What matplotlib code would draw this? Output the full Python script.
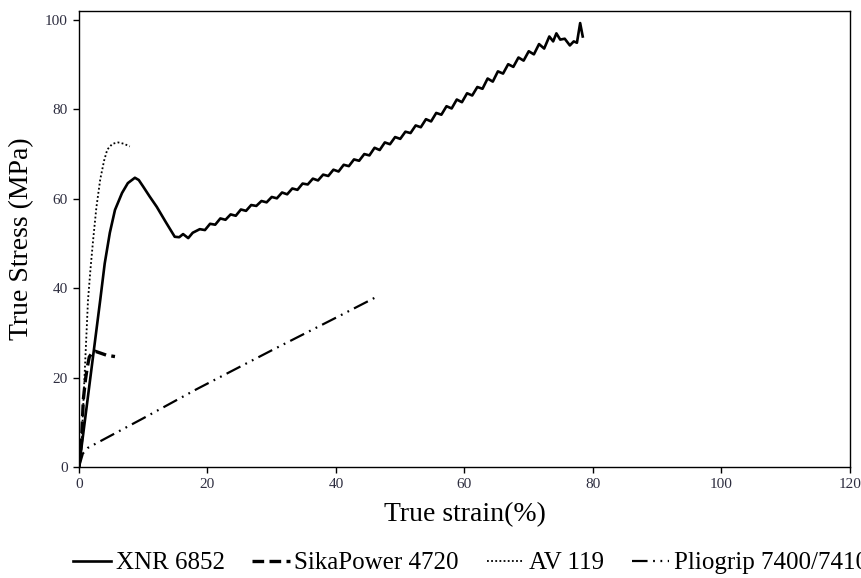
import matplotlib
matplotlib.use("Agg")
import matplotlib.pyplot as plt

plt.rcParams['font.family'] = ['Liberation Serif', 'DejaVu Serif']

# XNR 6852 (solid)
xnr_x = [0, 3.3, 4.0, 4.8, 5.6, 6.7, 7.6, 8.7, 9.3, 10.0, 11.0, 12.1, 13.5, 14.9, 15.6, 16.2, 17.0, 17.7,
         18.8, 19.6, 20.4, 21.2, 22.0, 22.8, 23.6, 24.4, 25.2, 26.0, 26.8, 27.6, 28.4, 29.2, 30.0,
         30.8, 31.6, 32.4, 33.2, 34.0, 34.8, 35.6, 36.4, 37.2, 38.0, 38.8, 39.6, 40.4, 41.2, 42.0,
         42.8, 43.6, 44.4, 45.2, 46.0, 46.8, 47.6, 48.4, 49.2, 50.0, 50.8, 51.6, 52.4, 53.2, 54.0,
         54.8, 55.6, 56.4, 57.2, 58.0, 58.8, 59.6, 60.4, 61.2, 62.0, 62.8, 63.6, 64.4, 65.2, 66.0,
         66.8, 67.6, 68.4, 69.2, 70.0, 70.8, 71.6, 72.4, 73.2, 73.8, 74.3, 74.9, 75.6, 76.4, 77.0,
         77.5, 78.0, 78.4]
xnr_y = [0, 37.3, 45.5, 52.4, 57.5, 61.3, 63.5, 64.7, 64.2, 62.7, 60.5, 58.2, 54.8, 51.5, 51.4, 52.1, 51.2, 52.4,
         53.2, 53.0, 54.4, 54.2, 55.6, 55.3, 56.5, 56.2, 57.6, 57.3, 58.6, 58.4, 59.5, 59.2, 60.4,
         60.1, 61.4, 61.0, 62.3, 62.0, 63.4, 63.2, 64.5, 64.1, 65.4, 65.1, 66.5, 66.1, 67.6, 67.3,
         68.8, 68.5, 70.0, 69.7, 71.4, 70.9, 72.6, 72.2, 73.8, 73.4, 75.0, 74.7, 76.4, 76.0, 77.8,
         77.3, 79.2, 78.8, 80.7, 80.2, 82.2, 81.6, 83.6, 83.1, 85.0, 84.6, 86.9, 86.2, 88.5, 88.0,
         90.1, 89.5, 91.6, 90.9, 93.0, 92.3, 94.6, 93.6, 96.3, 95.2, 97.0, 95.6, 95.8, 94.3, 95.2,
         94.9, 99.3, 96.3]

# SikaPower 4720 (dashed)
sika_x = [0, 0.4, 0.67, 1.0, 1.3, 1.6, 2.0, 2.5, 3.3, 4.3, 5.6]
sika_y = [0, 6.0, 15.0, 19.5, 22.4, 24.6, 25.5, 25.9, 25.5, 25.0, 24.7]

# AV 119 (dotted)
av_x = [0, 0.4, 0.9, 1.4, 1.8, 2.2, 2.7, 3.3, 3.9, 4.4, 5.2, 6.1, 7.0, 7.9]
av_y = [0, 5.4, 21.5, 37.3, 44.5, 50.8, 58.0, 64.3, 68.5, 71.0, 72.3, 72.6, 72.3, 71.7]

# Pliogrip 7400/7410 (dash-dot-dot)
plio_x = [0, 0.6, 1.4, 10.0, 18.3, 30.0, 40.0, 46.5]
plio_y = [0, 3.0, 4.3, 10.9, 17.4, 26.1, 33.4, 38.2]

labels = ['XNR 6852', 'SikaPower 4720', 'AV 119', 'Pliogrip 7400/7410']

fig = plt.figure(figsize=(8.62, 5.78), dpi=100)
ax = fig.add_axes([79 / 862, 1 - 467 / 578, (850 - 79) / 862, (467 - 11) / 578])

ax.plot(xnr_x, xnr_y, color='black', lw=1.9, solid_joinstyle='round', label=labels[0])
ax.plot(sika_x, sika_y, color='black', lw=2.4, linestyle=(0, (3.5, 1.6)), label=labels[1])
ax.plot(av_x, av_y, color='black', lw=1.3, linestyle=(0, (1, 1.3)), label=labels[2])
ax.plot(plio_x, plio_y, color='black', lw=1.6, linestyle=(0, (7, 2.5, 0.8, 2.5, 0.8, 2.5)), label=labels[3])

ax.set_xlim(0, 120)
ax.set_ylim(0, 102)
ax.set_xticks(range(0, 121, 20))
ax.set_yticks(range(0, 101, 20))
ax.tick_params(direction='out', length=4.5, width=1, labelsize=11,
               labelcolor='#2e2e40', top=False, right=False)
for s in ax.spines.values():
    s.set_linewidth(1.0)

ax.set_xlabel('True strain(%)', fontsize=20, labelpad=8)
ax.set_ylabel('True Stress (MPa)', fontsize=20, labelpad=8)

fig.legend(loc='center left', bbox_to_anchor=(73 / 862, 1 - 563 / 578), ncol=4,
           frameon=False, fontsize=18, handlelength=1.5, handletextpad=0.2,
           columnspacing=1.1, borderpad=0, borderaxespad=0)

fig.savefig('out.png', dpi=100)
